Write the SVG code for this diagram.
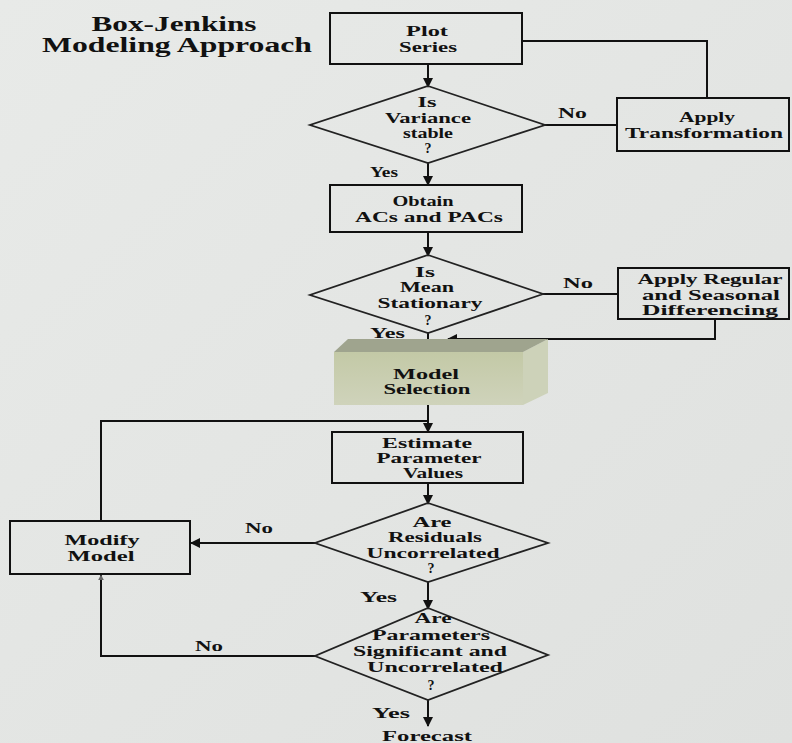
<svg xmlns="http://www.w3.org/2000/svg" width="792" height="743" viewBox="0 0 792 743">
<defs>
<marker id="ah" viewBox="0 0 10 10" refX="9" refY="5" markerWidth="11" markerHeight="10" orient="auto" markerUnits="userSpaceOnUse"><path d="M0,0 L10,5 L0,10 z" fill="#111"/></marker>
<marker id="ahs" viewBox="0 0 10 10" refX="9" refY="5" markerWidth="6" markerHeight="6" orient="auto" markerUnits="userSpaceOnUse"><path d="M0,0 L10,5 L0,10 z" fill="#666"/></marker>
<linearGradient id="bg" x1="0" y1="0" x2="1" y2="1"><stop offset="0" stop-color="#e8eae8"/><stop offset="1" stop-color="#dfe1df"/></linearGradient>
<linearGradient id="green" x1="0" y1="0" x2="0" y2="1"><stop offset="0" stop-color="#c3c9a6"/><stop offset="1" stop-color="#cfd3bb"/></linearGradient>
<style>
.box{fill:none;stroke:#111;stroke-width:2}
.dia{fill:none;stroke:#222;stroke-width:1.8}
.ln{fill:none;stroke:#111;stroke-width:2}
text{font-family:"Liberation Serif","Times New Roman",serif;font-weight:bold;font-size:14px;fill:#111;text-anchor:middle}
.title{font-size:20px}
.lbl{text-anchor:start}
</style>
</defs>
<rect x="0" y="0" width="792" height="743" fill="url(#bg)"/>

<g id="title">
<text class="title" x="174" y="31" textLength="165" lengthAdjust="spacingAndGlyphs">Box-Jenkins</text>
<text class="title" x="177" y="52" textLength="270" lengthAdjust="spacingAndGlyphs">Modeling Approach</text>
</g>

<g id="connectors">
<line class="ln" x1="428" y1="64" x2="428" y2="87" marker-end="url(#ah)"/>
<line class="ln" x1="428" y1="163" x2="428" y2="185" marker-end="url(#ah)"/>
<line class="ln" x1="428" y1="233" x2="428" y2="256" marker-end="url(#ah)"/>
<line class="ln" x1="428" y1="333" x2="428" y2="350" marker-end="url(#ah)"/>
<polyline class="ln" points="715,319 715,339 448,339" marker-end="url(#ah)"/>
<line class="ln" x1="428" y1="405" x2="428" y2="432" marker-end="url(#ah)"/>
<polyline class="ln" points="101,521 101,421 428,421"/>
<line class="ln" x1="428" y1="483" x2="428" y2="504" marker-end="url(#ah)"/>
<line class="ln" x1="315" y1="543" x2="191" y2="543" marker-end="url(#ah)"/>
<line class="ln" x1="428" y1="582" x2="428" y2="609" marker-end="url(#ah)"/>
<polyline class="ln" points="315,656 101,656 101,575" marker-end="url(#ahs)"/>
<line class="ln" x1="428" y1="700" x2="428" y2="726" marker-end="url(#ah)"/>
<line class="ln" x1="545" y1="125" x2="617" y2="125"/>
<polyline class="ln" points="522,41 707,41 707,98"/>
<line class="ln" x1="543" y1="294" x2="618" y2="294"/>
</g>

<g id="plot-series">
<rect class="box" x="330" y="13" width="192" height="51"/>
<text x="427" y="36" textLength="42" lengthAdjust="spacingAndGlyphs">Plot</text>
<text x="428" y="52" textLength="58" lengthAdjust="spacingAndGlyphs">Series</text>
</g>

<g id="variance-stable">
<polygon class="dia" points="428,86 545,125 428,163 310,125"/>
<text x="427" y="107" textLength="19" lengthAdjust="spacingAndGlyphs">Is</text>
<text x="428" y="123" textLength="86" lengthAdjust="spacingAndGlyphs">Variance</text>
<text x="428" y="138" textLength="50" lengthAdjust="spacingAndGlyphs">stable</text>
<text x="428" y="153">?</text>
</g>

<g id="apply-transformation">
<rect class="box" x="617" y="98" width="172" height="53"/>
<text x="707" y="122" textLength="56" lengthAdjust="spacingAndGlyphs">Apply</text>
<text x="704" y="138" textLength="158" lengthAdjust="spacingAndGlyphs">Transformation</text>
</g>

<g id="obtain-acs">
<rect class="box" x="330" y="185" width="192" height="47"/>
<text x="423" y="206" textLength="61" lengthAdjust="spacingAndGlyphs">Obtain</text>
<text x="429" y="222" textLength="148" lengthAdjust="spacingAndGlyphs">ACs and PACs</text>
</g>

<g id="mean-stationary">
<polygon class="dia" points="428,255 543,294 428,333 310,295"/>
<text x="425" y="277" textLength="20" lengthAdjust="spacingAndGlyphs">Is</text>
<text x="427" y="292" textLength="54" lengthAdjust="spacingAndGlyphs">Mean</text>
<text x="430" y="308" textLength="105" lengthAdjust="spacingAndGlyphs">Stationary</text>
<text x="428" y="325">?</text>
</g>

<g id="apply-differencing">
<rect class="box" x="618" y="268" width="171" height="51"/>
<text x="710" y="284" textLength="145" lengthAdjust="spacingAndGlyphs">Apply Regular</text>
<text x="711" y="300" textLength="138" lengthAdjust="spacingAndGlyphs">and Seasonal</text>
<text x="710" y="315" textLength="136" lengthAdjust="spacingAndGlyphs">Differencing</text>
</g>

<g id="model-selection">
<rect x="334" y="352" width="189" height="53" fill="url(#green)"/>
<polygon points="523,352 548,339 548,393 523,405" fill="#cdd2b9"/>
<polygon points="334,352 348,339 548,339 523,352" fill="#9fa48e"/>
<text x="426" y="379" textLength="66" lengthAdjust="spacingAndGlyphs">Model</text>
<text x="427" y="394" textLength="87" lengthAdjust="spacingAndGlyphs">Selection</text>
</g>

<g id="estimate-parameters">
<rect class="box" x="332" y="432" width="191" height="51"/>
<text x="427" y="448" textLength="90" lengthAdjust="spacingAndGlyphs">Estimate</text>
<text x="429" y="463" textLength="105" lengthAdjust="spacingAndGlyphs">Parameter</text>
<text x="433" y="478" textLength="60" lengthAdjust="spacingAndGlyphs">Values</text>
</g>

<g id="residuals-uncorrelated">
<polygon class="dia" points="428,503 548,543 428,582 315,543"/>
<text x="432" y="527" textLength="39" lengthAdjust="spacingAndGlyphs">Are</text>
<text x="435" y="542" textLength="94" lengthAdjust="spacingAndGlyphs">Residuals</text>
<text x="433" y="558" textLength="133" lengthAdjust="spacingAndGlyphs">Uncorrelated</text>
<text x="431" y="573">?</text>
</g>

<g id="modify-model">
<rect class="box" x="10" y="521" width="180" height="53"/>
<text x="102" y="545" textLength="75" lengthAdjust="spacingAndGlyphs">Modify</text>
<text x="101" y="561" textLength="67" lengthAdjust="spacingAndGlyphs">Model</text>
</g>

<g id="parameters-significant">
<polygon class="dia" points="428,608 548,655 428,700 315,656"/>
<text x="433" y="623" textLength="37" lengthAdjust="spacingAndGlyphs">Are</text>
<text x="431" y="640" textLength="118" lengthAdjust="spacingAndGlyphs">Parameters</text>
<text x="430" y="656" textLength="154" lengthAdjust="spacingAndGlyphs">Significant and</text>
<text x="435" y="672" textLength="136" lengthAdjust="spacingAndGlyphs">Uncorrelated</text>
<text x="431" y="690">?</text>
</g>

<g id="forecast">
<text x="427" y="741" textLength="90" lengthAdjust="spacingAndGlyphs">Forecast</text>
</g>

<g id="labels">
<text class="lbl" x="558" y="118" textLength="29" lengthAdjust="spacingAndGlyphs">No</text>
<text class="lbl" x="370" y="177" textLength="28" lengthAdjust="spacingAndGlyphs">Yes</text>
<text class="lbl" x="563" y="288" textLength="30" lengthAdjust="spacingAndGlyphs">No</text>
<text class="lbl" x="370" y="338" textLength="35" lengthAdjust="spacingAndGlyphs">Yes</text>
<text class="lbl" x="245" y="533" textLength="28" lengthAdjust="spacingAndGlyphs">No</text>
<text class="lbl" x="360" y="602" textLength="37" lengthAdjust="spacingAndGlyphs">Yes</text>
<text class="lbl" x="195" y="651" textLength="28" lengthAdjust="spacingAndGlyphs">No</text>
<text class="lbl" x="372" y="718" textLength="38" lengthAdjust="spacingAndGlyphs">Yes</text>
</g>
</svg>
